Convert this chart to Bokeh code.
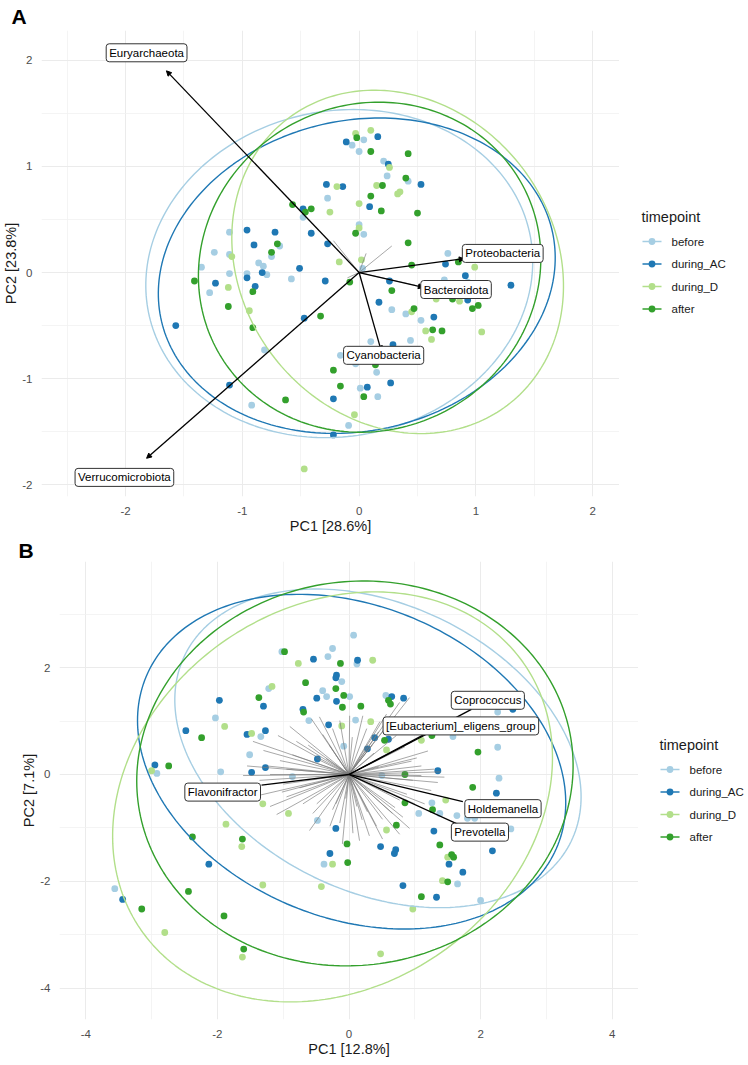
import numpy as np
from bokeh.plotting import figure
from bokeh.models import Range1d, FixedTicker, Label, Arrow, NormalHead, Spacer
from bokeh.core.properties import value
from bokeh.layouts import column, row
from bokeh.embed import file_html
from bokeh.resources import INLINE

FONT = "Liberation Sans"
GROUPS = ["before", "during_AC", "during_D", "after"]
COLORS = ["#A6CEE3", "#1F78B4", "#B2DF8A", "#33A02C"]

# ---------------- Panel A data ----------------
a_before_x = [-0.06, 0.04, 0.00, -0.27, -0.48, 0.00, 0.04, -1.11, -0.68, -1.24, -1.11, -0.75, -1.35, -0.86, -0.82, 0.03, -1.11, -0.96, -0.79, -0.58,
              -1.28, -0.81, -0.92, -0.09, 0.01, -0.16, -0.03, 0.15, 0.16, 0.10, 0.28, 0.40, 0.53, 0.44, 0.21, 0.24, 0.42, 0.76, 0.93, 0.73]
a_before_y = [1.20, 1.25, 1.14, 0.70, 0.52, 0.45, 0.36, 0.38, 0.25, 0.19, 0.17, 0.15, 0.05, 0.09, 0.06, 0.04, -0.01, -0.01, -0.02, -0.06,
              -0.19, -0.73, -1.25, -1.44, -1.09, -0.78, -0.86, -0.94, -1.17, -0.65, -0.35, -0.39, -0.45, -0.64, 1.05, 0.91, 0.86, 0.18, -0.09, -0.07]
a_dac_x = [-0.11, 0.16, 0.09, -0.28, -0.14, 0.25, 0.53, -0.48, -0.41, -0.27, -0.96, -0.72, -0.90, -0.83, -0.51, -1.23, -0.96, -0.89, -0.29, -0.47,
           -1.57, -1.11, -0.22, 0.07, -0.22, 0.27, 0.29, 0.17, 0.64, 0.93, 0.91, 0.74, 1.30, 0.26]
a_dac_y = [1.23, 1.28, 0.62, 0.83, 0.81, 1.02, 0.83, 0.60, 0.37, 0.27, 0.40, 0.38, 0.26, 0.00, 0.04, -0.10, -0.05, -0.13, -0.08, -0.43,
           -0.50, -1.06, -1.19, -1.08, -1.53, -1.04, -0.68, -0.28, -0.42, -0.26, -0.03, 0.08, -0.12, -0.08]
a_dd_x = [-0.03, 0.10, -0.19, -0.25, 0.00, 0.15, 0.26, 0.33, 0.35, 0.00, -1.09, -0.17, 0.02, -1.12, -0.94, -0.04, -0.47, 0.99, 0.66, 0.86,
          0.45, 0.57, 0.62, 1.05]
a_dd_y = [1.31, 1.34, 0.81, 0.57, 0.65, 0.82, 0.99, 0.74, 0.76, 0.42, 0.15, 0.10, 0.12, -0.14, -0.36, -1.34, -1.85, 0.05, -0.25, -0.27,
          -0.37, -0.55, -0.63, -0.56]
a_after_x = [-0.02, 0.10, 0.10, 0.42, 0.40, 0.20, 0.19, 0.50, -0.57, -0.46, -0.41, -0.70, -0.03, 0.42, -0.75, -0.08, -1.41, -0.91, -1.12, -0.33,
             -0.91, 0.45, 0.85, 0.28, 0.80, 1.02, 0.97, 0.47, 0.63, 0.71, 0.14, -0.22, -0.16, 0.04, -0.63]
a_after_y = [1.27, 1.14, 0.72, 1.12, 0.89, 0.82, 0.58, 0.56, 0.64, 0.57, 0.60, 0.27, 0.37, 0.28, 0.19, -0.09, -0.08, -0.18, -0.32, -0.41,
             -0.52, 0.07, 0.10, -0.17, -0.25, -0.31, -0.34, -0.34, -0.54, -0.55, -0.87, -0.92, -1.07, -1.17, -1.20]

# ellipse parameters (before, during_AC, during_D, after)
a_ell_cx = [-0.17, -0.02, 0.33, 0.09]
a_ell_cy = [-0.01, -0.03, 0.10, 0.05]
a_ell_a = [1.68, 1.73, 1.66, 1.57]
a_ell_b = [1.52, 1.45, 1.37, 1.45]
a_ell_ang = [0.40, 0.35, -1.16, 1.20]

a_taxa = ["Euryarchaeota", "Verrucomicrobiota", "Proteobacteria", "Bacteroidota", "Cyanobacteria"]
a_load_x = [-1.65, -1.82, 0.90, 0.55, 0.19]
a_load_y = [1.90, -1.75, 0.13, -0.14, -0.74]
a_lab_x = [-1.82, -2.01, 1.23, 0.83, 0.21]
a_lab_y = [2.07, -1.93, 0.18, -0.16, -0.78]
a_gray_x = [-0.22, 0.28, 0.48, 0.06, -0.10]
a_gray_y = [0.30, 0.25, -0.12, 0.18, -0.05]

a_xticks = [-2, -1, 0, 1, 2]
a_xminor = [-2.5, -1.5, -0.5, 0.5, 1.5]
a_yticks = [-2, -1, 0, 1, 2]
a_yminor = [-1.5, -0.5, 0.5, 1.5]

# ---------------- Panel B data ----------------
b_before_x = [0.07, -0.25, -0.32, -1.02, 0.12, -0.11, 0.01, -0.40, -0.34, -1.22, -0.61, 0.10, -2.03, -1.34, -0.08, -1.51, -2.92, -1.95, -0.86, 0.56,
              2.26, 1.58, 2.26, 0.50, 2.28, 1.26, 1.06, 1.38, 1.64, 1.80, 1.91, -0.48, 2.46, -0.38, 1.65, 2.00, -3.56]
b_before_y = [2.61, 2.36, 2.21, 2.30, 2.07, 1.74, 1.46, 1.57, 1.46, 1.61, 1.01, 1.02, 1.06, 0.71, 0.53, 0.37, 0.02, 0.05, -0.04, 1.48,
              1.17, 0.71, 0.51, -0.02, -0.07, -0.53, -0.73, -0.73, -0.77, -0.82, -0.82, -0.86, -1.02, -1.68, -2.05, -2.36, -2.14]
b_dac_x = [-0.54, 0.13, -0.19, -0.20, -0.49, -1.97, -1.30, -0.19, -0.70, -0.31, -2.48, -1.55, -1.27, 0.39, 0.28, -0.48, -2.95, -1.48, -1.27, 0.65,
           0.83, 2.49, 0.60, 1.35, 2.24, 1.29, -0.20, 0.48, 0.71, 0.69, -0.29, 2.18, 1.52, 1.73, 0.82, 1.33, -2.13, -3.44]
b_dac_y = [2.16, 2.14, 1.86, 1.81, 1.43, 1.39, 1.28, 1.37, 1.22, 0.93, 0.82, 0.75, 0.82, 0.69, 0.48, 0.29, 0.18, 0.04, 0.13, 1.46,
           1.43, 1.22, 0.66, 0.07, -0.35, -1.06, -1.01, -1.35, -1.41, -1.48, -1.48, -1.43, -1.68, -1.83, -2.08, -2.30, -1.68, -2.34]
b_dd_x = [-0.77, 0.36, -1.17, 0.33, -0.11, -1.89, -1.48, -3.00, -1.31, 0.57, 1.10, 1.47, 0.57, -0.92, -1.87, -1.63, -0.25, 1.50, -1.31, -0.42,
          1.42, 0.97, -2.80, -1.62, 0.48]
b_dd_y = [2.08, 2.14, 1.65, 0.99, 0.91, 0.90, 0.77, 0.07, -0.55, 0.46, 0.64, -0.48, -1.04, -0.73, -0.93, -1.35, -1.68, -1.55, -2.07, -2.10,
          -1.99, -2.52, -2.96, -3.42, -3.36]
b_after_x = [-0.98, -0.13, -0.66, -0.20, -0.08, -1.37, -0.10, 0.18, -0.69, -2.24, -2.74, 0.60, 0.63, 0.54, 1.26, 1.96, 0.85, 1.88, 0.85, 1.27,
             0.72, -0.03, 1.38, -0.02, 1.56, 1.59, 1.50, 1.10, -2.38, -1.62, -2.44, -3.15, -1.90, -1.60]
b_after_y = [2.30, 2.08, 1.72, 1.61, 1.48, 1.44, 1.26, 1.28, 1.17, 0.69, 0.16, 1.39, 1.32, 0.64, 0.73, 0.42, 0.00, -0.24, -0.53, -0.66,
             -0.95, -1.30, -1.32, -1.65, -1.50, -1.55, -2.01, -2.29, -1.17, -1.21, -2.19, -2.52, -2.65, -3.27]

b_ell_cx = [0.44, 0.04, -0.25, 0.09]
b_ell_cy = [0.49, 0.24, -0.42, 0.02]
b_ell_a = [3.47, 3.57, 4.00, 3.62]
b_ell_b = [2.53, 2.77, 3.15, 3.30]
b_ell_ang = [-0.73, -0.71, 1.10, 1.35]

b_taxa = ["Coprococcus", "[Eubacterium]_eligens_group", "Holdemanella", "Prevotella", "Flavonifractor"]
b_load_x = [1.86, 1.25, 1.73, 1.65, -1.33]
b_load_y = [1.22, 0.80, -0.51, -0.93, -0.20]
b_lab_x = [2.11, 1.70, 2.34, 1.99, -1.92]
b_lab_y = [1.39, 0.91, -0.64, -1.08, -0.33]
b_gray_x = [-1.55, -1.46, -1.08, -0.90, -0.57, -0.45, -0.25, -0.14, 0.01, 0.21, 0.27, -0.86, -1.05, -1.25, -1.61, -1.36, -1.00, 0.92, 0.77, 0.57,
            0.47, 0.72, 0.97, 1.20, 1.03, 1.10, 1.10, 0.97, 0.88, 0.77, 0.66, 0.51, 0.42, 0.31, 0.16, -0.14, 0.51, 0.77, 0.92, -0.25,
            -0.49, -0.55, -0.70, -0.95, -1.02, 0.06, -0.29, 0.35, -0.62, 1.30, 0.60, -0.35, 0.12, -1.20, 1.15,
            -1.30, -0.80, -0.40, 0.45, 0.85, 1.40, 1.25, 0.70, 0.20, -0.10, -0.60, -1.10, -1.40, -0.75, -0.30, 0.05, 0.38, 0.95, 1.35, 0.60,
            -0.20, -0.95, -1.20, 0.28, 0.82, 1.45, -0.50, -0.05, 0.45, 1.00]
b_gray_y = [0.16, 0.62, 0.73, 0.90, 1.04, 1.08, 0.86, 1.01, 1.10, 1.10, 0.86, 0.37, 0.26, 0.16, -0.02, -0.11, -0.18, 1.44, 1.35, 1.13,
            0.99, 0.73, 0.62, 0.44, 0.31, 0.16, -0.02, -0.11, -0.37, -0.48, -0.73, -0.84, -0.97, -1.15, -1.24, -0.91, -1.21, -1.12, -1.01, -0.66,
            -0.55, -0.73, -0.55, -0.42, -0.33, -1.10, -0.97, 0.55, 0.55, 0.10, 0.95, 0.30, -0.60, -0.60, -0.55,
            0.45, 0.62, 0.75, 0.80, 0.52, 0.05, -0.30, -0.62, -0.85, -1.30, -1.05, -0.75, -0.40, -0.25, 0.55, 0.70, 0.40, 0.25, -0.15, -0.35,
            -0.55, 0.10, 0.00, -0.70, -0.80, -0.05, 0.30, -0.45, 0.15, -0.55]

b_xticks = [-4, -2, 0, 2, 4]
b_xminor = [-3, -1, 1, 3]
b_yticks = [-4, -2, 0, 2]
b_yminor = [-3, -1, 1, 3]


def ellipse_xy(cx, cy, a, b, ang, n=240):
    t = np.linspace(0, 2 * np.pi, n)
    ca, sa = np.cos(ang), np.sin(ang)
    x = cx + a * np.cos(t) * ca - b * np.sin(t) * sa
    y = cy + a * np.cos(t) * sa + b * np.sin(t) * ca
    return x, y


def build(letter, xlab, ylab, xr, yr, xt, xm, yt, ym, pts, ell, gray, load, labs, taxa,
          fw, fh, ml, heads, letter_off, title_gap):
    p = figure(frame_width=fw, frame_height=fh, x_range=Range1d(*xr), y_range=Range1d(*yr),
               output_backend="svg", toolbar_location=None,
               min_border_left=ml, min_border_top=0, min_border_right=0, min_border_bottom=0)
    p.outline_line_color = None
    p.title.text = letter
    p.title.align = "left"
    p.title.offset = letter_off
    p.title.standoff = title_gap
    p.title.text_font = FONT
    p.title.text_font_size = "21px"
    p.title.text_font_style = "bold"
    p.title.text_color = "black"
    p.xaxis.ticker = FixedTicker(ticks=xt, minor_ticks=xm)
    p.yaxis.ticker = FixedTicker(ticks=yt, minor_ticks=ym)
    p.xaxis.major_label_overrides = {t: str(t) for t in xt}
    p.yaxis.major_label_overrides = {t: str(t) for t in yt}
    p.grid.grid_line_color = "#ebebeb"
    p.grid.grid_line_width = 1
    p.grid.minor_grid_line_color = "#f1f1f1"
    p.grid.minor_grid_line_width = 0.8
    for ax in p.axis:
        ax.axis_line_color = None
        ax.major_tick_line_color = None
        ax.minor_tick_line_color = None
        ax.major_tick_out = 0
        ax.major_label_standoff = 6
        ax.axis_label_standoff = 0
        ax.major_label_text_font = FONT
        ax.major_label_text_font_size = "11.5px"
        ax.major_label_text_color = "#4d4d4d"
        ax.axis_label_text_font = FONT
        ax.axis_label_text_font_size = "14.5px"
        ax.axis_label_text_font_style = "normal"
        ax.axis_label_text_color = "#1a1a1a"
    p.yaxis.major_label_standoff = 5
    p.xaxis.axis_label = xlab
    p.yaxis.axis_label = ylab

    for (xs, ys), c in zip(pts, COLORS):
        p.scatter(xs, ys, size=6.8, fill_color=c, line_color=None)
    for i, c in enumerate(COLORS):
        ex, ey = ellipse_xy(ell[0][i], ell[1][i], ell[2][i], ell[3][i], ell[4][i])
        p.line(ex, ey, line_color=c, line_width=1.4)

    gx, gy = gray
    p.segment(x0=[0] * len(gx), y0=[0] * len(gy), x1=gx, y1=gy,
              line_color="#7a7a7a", line_alpha=0.65, line_width=1)
    lx, ly = load
    for x1, y1 in zip(lx, ly):
        if heads:
            p.add_layout(Arrow(x_start=0, y_start=0, x_end=x1, y_end=y1,
                               line_color="black", line_width=1.3,
                               end=NormalHead(size=5, fill_color="black", line_color="black")))
        else:
            p.segment(x0=[0], y0=[0], x1=[x1], y1=[y1], line_color="black", line_width=1.3)
    bx, by = labs
    for t, x, y in zip(taxa, bx, by):
        p.add_layout(Label(x=x, y=y, text=t, text_font=FONT, text_font_size="11.5px",
                           text_color="black", text_align="center", text_baseline="middle",
                           background_fill_color="white", border_line_color="#333333",
                           border_line_width=1, padding=3, border_radius=3))
    return p


def legend_fig(w, h, x0, title_y, item_y0, step=22.5):
    # drawn in pixel units of its own small canvas, y measured from the top
    f = figure(title=None, frame_width=w, frame_height=h, x_range=Range1d(0, w), y_range=Range1d(h, 0),
               x_axis_type=None, y_axis_type=None, output_backend="svg", toolbar_location=None,
               min_border=0)
    f.outline_line_color = None
    f.grid.visible = False
    f.text(x=[x0], y=[title_y], text=["timepoint"], text_font=value(FONT), text_font_size="14.5px",
           text_baseline="middle", text_align="left", text_color="#1a1a1a")
    ys = [item_y0 + i * step for i in range(len(GROUPS))]
    f.segment(x0=[x0 + 1] * len(ys), y0=ys, x1=[x0 + 20] * len(ys), y1=ys,
              line_color=COLORS, line_width=1.4)
    f.scatter(x=[x0 + 10.5] * len(ys), y=ys, size=6.8, fill_color=COLORS, line_color=None)
    f.text(x=[x0 + 30] * len(ys), y=ys, text=GROUPS, text_font=value(FONT), text_font_size="11.5px",
           text_baseline="middle", text_align="left", text_color="#1a1a1a")
    return f


pA = build("A", "PC1 [28.6%]", "PC2 [23.8%]", (-2.72, 2.23), (-2.11, 2.28),
           a_xticks, a_xminor, a_yticks, a_yminor,
           [(a_before_x, a_before_y), (a_dac_x, a_dac_y), (a_dd_x, a_dd_y), (a_after_x, a_after_y)],
           (a_ell_cx, a_ell_cy, a_ell_a, a_ell_b, a_ell_ang),
           (a_gray_x, a_gray_y), (a_load_x, a_load_y), (a_lab_x, a_lab_y), a_taxa,
           fw=578, fh=466, ml=34, heads=True, letter_off=-30, title_gap=5)

pB = build("B", "PC1 [12.8%]", "PC2 [7.1%]", (-4.40, 4.40), (-4.59, 3.99),
           b_xticks, b_xminor, b_yticks, b_yminor,
           [(b_before_x, b_before_y), (b_dac_x, b_dac_y), (b_dd_x, b_dd_y), (b_after_x, b_after_y)],
           (b_ell_cx, b_ell_cy, b_ell_a, b_ell_b, b_ell_ang),
           (b_gray_x, b_gray_y), (b_load_x, b_load_y), (b_lab_x, b_lab_y), b_taxa,
           fw=579, fh=458, ml=34, heads=False, letter_off=-41, title_gap=0)

legA = legend_fig(118, 460, 22, 186, 211)
legB = legend_fig(108, 460, 21, 183, 208)

layout = column(row(pA, legA), row(Spacer(width=18), pB, legB))
open("out.html", "w").write(file_html(layout, INLINE))
